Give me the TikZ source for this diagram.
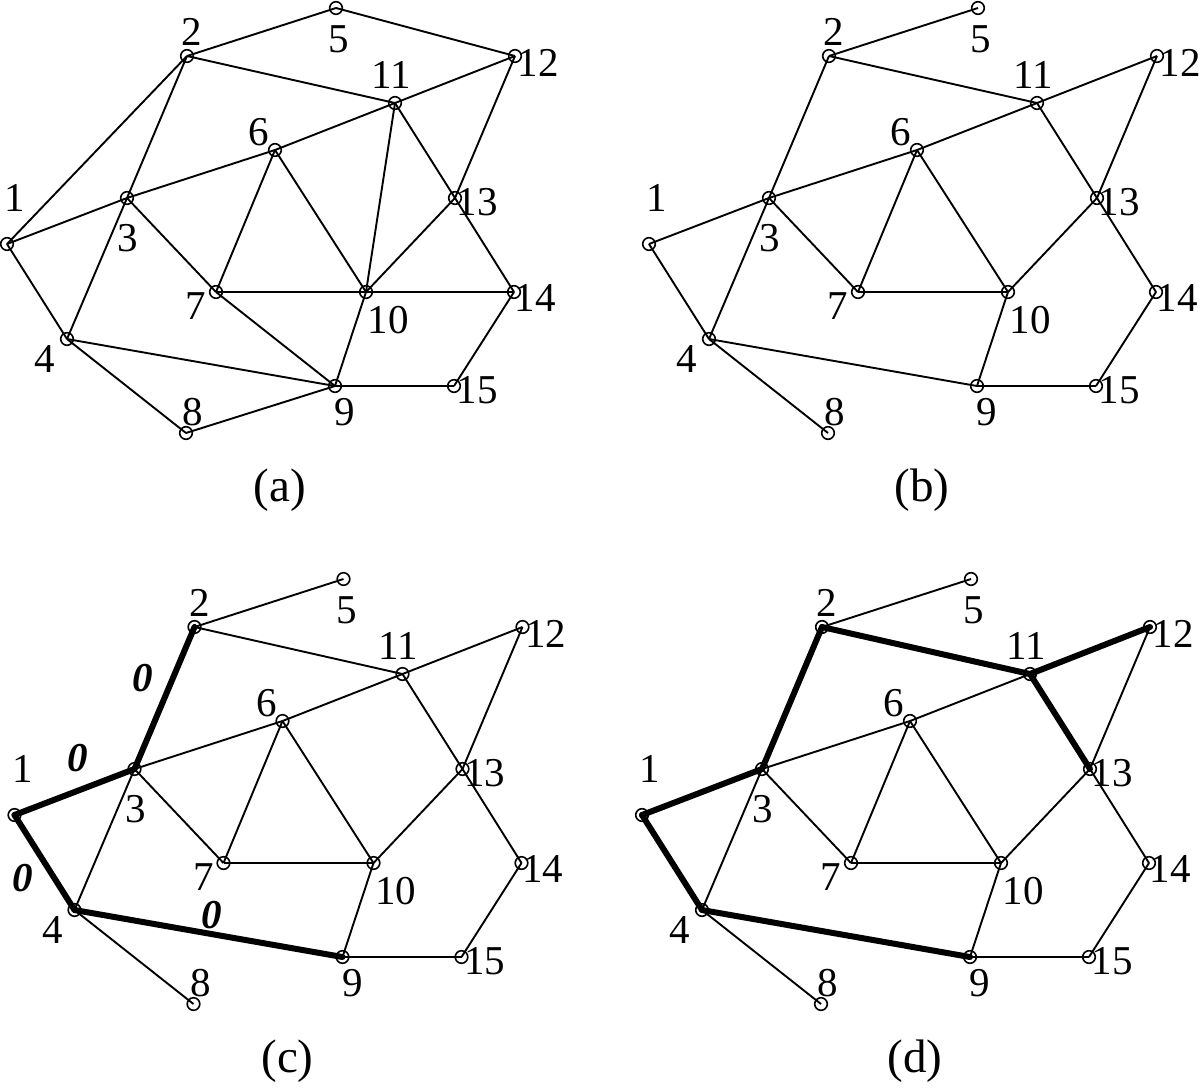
\documentclass[tikz,border=0pt]{standalone}
\usepackage{fontspec}
\setmainfont{Liberation Serif}
\tikzset{
  vtx/.style={draw, circle, line width=0.8pt, minimum size=6.3pt, inner sep=0pt},
  lbl/.style={inner sep=0pt, font=\fontsize{20.5}{24}\selectfont},
  captxt/.style={inner sep=0pt, font=\fontsize{23.5}{27}\selectfont},
  zlbl/.style={inner sep=0pt, font=\fontsize{20.5}{24}\selectfont\bfseries\itshape},
  edge/.style={line width=0.95pt},
  thickedge/.style={line width=3pt, line cap=round, line join=round}
}
\newcommand\drawpanel[5]{%
  % #1 prefix, #2 shift, #3 thin edges, #4 thick edges, #5 caption
  \begin{scope}[shift={#2}]
    \foreach \n/\px/\py/\lx/\ly in {
      1/7/244/8/-46, 2/187/56/5/-24, 3/127/198/1/40, 4/67/339/-22/20,
      5/336/8/3/31, 6/275/150/-16/-18, 7/216/292/-20/14, 8/186/433/7/-21,
      9/335/386/10/26, 10/366/292/22/28, 11/395/103/-4/-28, 12/515/56/23/7,
      13/455/198/22/4, 14/514/292/21/6, 15/454/386/23/4} {
      \node[vtx] (#1\n) at (\px,\py) {};
      \node[lbl] (#1l\n) at ({\px+\lx},{\py+\ly}) {\n};
    }
    \foreach \u/\v in {#3} \draw[edge] (#1\u.center) -- (#1\v.center);
    \foreach \u/\v in {#4} \draw[thickedge] (#1\u.center) -- (#1\v.center);
    \node[captxt] (#1cap) at (280,490) {#5};
  \end{scope}}
\begin{document}
\begin{tikzpicture}[x=0.5pt, y=-0.5pt]
\useasboundingbox (0,0) rectangle (1200,1089);
\drawpanel{a}{(0,0)}{1/2,1/3,1/4,2/3,2/5,2/11,5/12,3/4,3/6,6/11,11/12,3/7,6/7,6/10,7/10,7/9,4/9,4/8,8/9,10/11,10/13,11/13,12/13,13/14,10/14,9/10,9/15,14/15}{}{(a)}
\drawpanel{b}{(642,0)}{1/3,1/4,2/3,2/5,2/11,3/6,6/11,11/12,12/13,11/13,3/4,3/7,6/7,6/10,7/10,10/13,13/14,14/15,9/15,9/10,4/9,4/8}{}{(b)}
\drawpanel{c}{(7.5,571)}{2/5,2/11,3/6,6/11,11/12,12/13,11/13,3/4,3/7,6/7,6/10,7/10,10/13,13/14,14/15,9/15,9/10,4/8}{1/3,2/3,1/4,4/9}{(c)}
\drawpanel{d}{(635,571)}{2/5,3/6,6/11,12/13,3/4,3/7,6/7,6/10,7/10,10/13,13/14,14/15,9/15,9/10,4/8}{1/3,1/4,2/3,4/9,2/11,11/12,11/13}{(d)}
\begin{scope}[shift={(7.5,571)}]
  \node[zlbl] (z23) at (135.5,107) {0};
  \node[zlbl] (z13) at (70.5,187) {0};
  \node[zlbl] (z14) at (15.5,307) {0};
  \node[zlbl] (z49) at (204.5,344) {0};
\end{scope}
\end{tikzpicture}
\end{document}
